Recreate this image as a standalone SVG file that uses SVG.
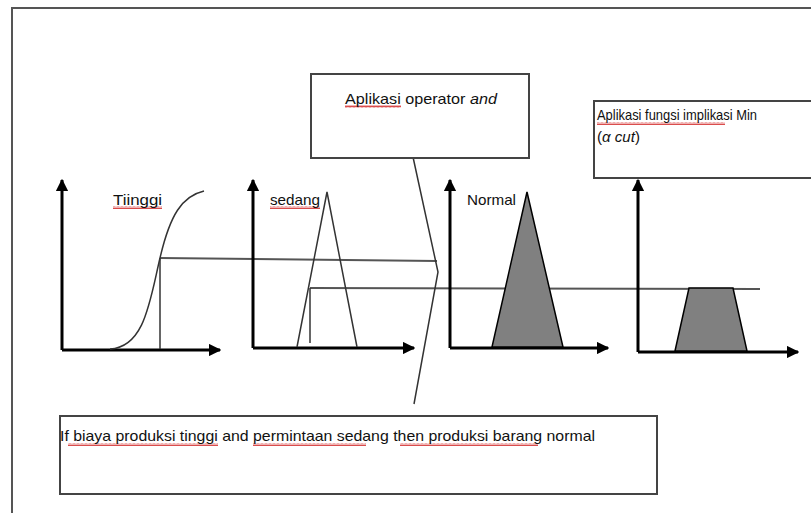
<svg xmlns="http://www.w3.org/2000/svg" width="811" height="513" viewBox="0 0 811 513">
<defs>
<marker id="ah" viewBox="0 0 10 10" refX="9" refY="5" markerWidth="4.2" markerHeight="4.2" orient="auto" markerUnits="strokeWidth">
<path d="M0,0 L10,5 L0,10 Z" fill="#000"/>
</marker>
<pattern id="sq" width="4" height="3" patternUnits="userSpaceOnUse">
<path d="M0,2.5 L1,0.5 L2,2.5 L3,0.5 L4,2.5" fill="none" stroke="#d02020" stroke-width="0.8"/>
</pattern>
</defs>
<style>
.frame{fill:none;stroke:#555;stroke-width:2}
.box{fill:#fff;stroke:#444;stroke-width:2}
.axis{fill:none;stroke:#000;stroke-width:3;marker-end:url(#ah)}
.thin{fill:none;stroke:#333;stroke-width:1.5}
.lvl{fill:none;stroke:#555;stroke-width:2}
.mf{fill:#808080;stroke:#000;stroke-width:1.5}
.t{font-family:"Liberation Sans",Arial,sans-serif;font-size:14.5px;fill:#111}
.sq{fill:url(#sq)}
</style>
<rect width="811" height="513" fill="#fff"/>
<path class="frame" d="M12,520 L12,8 L820,8"/>

<g id="connectors">
<path class="lvl" d="M160,258 L437,261"/>
<path class="lvl" d="M310,288 L760,289"/>
<path class="thin" d="M413,157 L438,272 L414,404"/>
</g>

<g id="graph-tinggi">
<path class="axis" d="M62,350 L62,180"/>
<path class="axis" d="M62,350 L220,350"/>
<path class="thin" d="M110,349 C145,347 150,300 160,258 C170,215 182,196 204,191"/>
<path class="thin" d="M160,258 L160,349"/>
<rect class="sq" x="113" y="206" width="49" height="3"/>
<text class="t" x="113" y="205" textLength="49" lengthAdjust="spacingAndGlyphs">Tiinggi</text>
</g>

<g id="graph-sedang">
<path class="axis" d="M253,348 L253,180"/>
<path class="axis" d="M253,348 L414,348"/>
<path class="thin" d="M297,347 L327,192 L357,347"/>
<path class="thin" d="M310,288 L310,343"/>
<rect class="sq" x="270" y="206" width="50" height="3"/>
<text class="t" x="270" y="205" textLength="50" lengthAdjust="spacingAndGlyphs">sedang</text>
</g>

<g id="graph-normal">
<path class="axis" d="M450,348 L450,180"/>
<path class="axis" d="M450,348 L608,348"/>
<path class="mf" d="M492,347 L527,192 L563,347 Z"/>
<text class="t" x="467" y="205" textLength="49" lengthAdjust="spacingAndGlyphs">Normal</text>
</g>

<g id="graph-result">
<path class="axis" d="M638,352 L638,180"/>
<path class="axis" d="M638,352 L798,352"/>
<path class="mf" d="M675,351 L689,288 L733,288 L747,351 Z"/>
</g>

<g id="box-operator">
<rect class="box" x="311" y="74" width="218" height="84"/>
<rect class="sq" x="345" y="105" width="56" height="3"/>
<text class="t" x="345" y="104" textLength="152" lengthAdjust="spacingAndGlyphs">Aplikasi operator <tspan font-style="italic">and</tspan></text>
</g>

<g id="box-implikasi">
<rect class="box" x="594" y="101" width="230" height="77"/>
<rect class="sq" x="597" y="122" width="128" height="3"/>
<text class="t" x="597" y="120" textLength="160" lengthAdjust="spacingAndGlyphs">Aplikasi fungsi implikasi Min</text>
<text class="t" x="597" y="142" textLength="43" lengthAdjust="spacingAndGlyphs">(<tspan font-style="italic">α cut</tspan>)</text>
</g>

<g id="box-rule">
<rect class="box" x="60" y="416" width="597" height="78"/>
<rect class="sq" x="68" y="443" width="150" height="3"/>
<rect class="sq" x="253" y="443" width="113" height="3"/>
<rect class="sq" x="400" y="443" width="138" height="3"/>
<text class="t" x="60" y="441" textLength="535" lengthAdjust="spacingAndGlyphs">If biaya produksi tinggi and permintaan sedang then produksi barang normal</text>
</g>
</svg>
